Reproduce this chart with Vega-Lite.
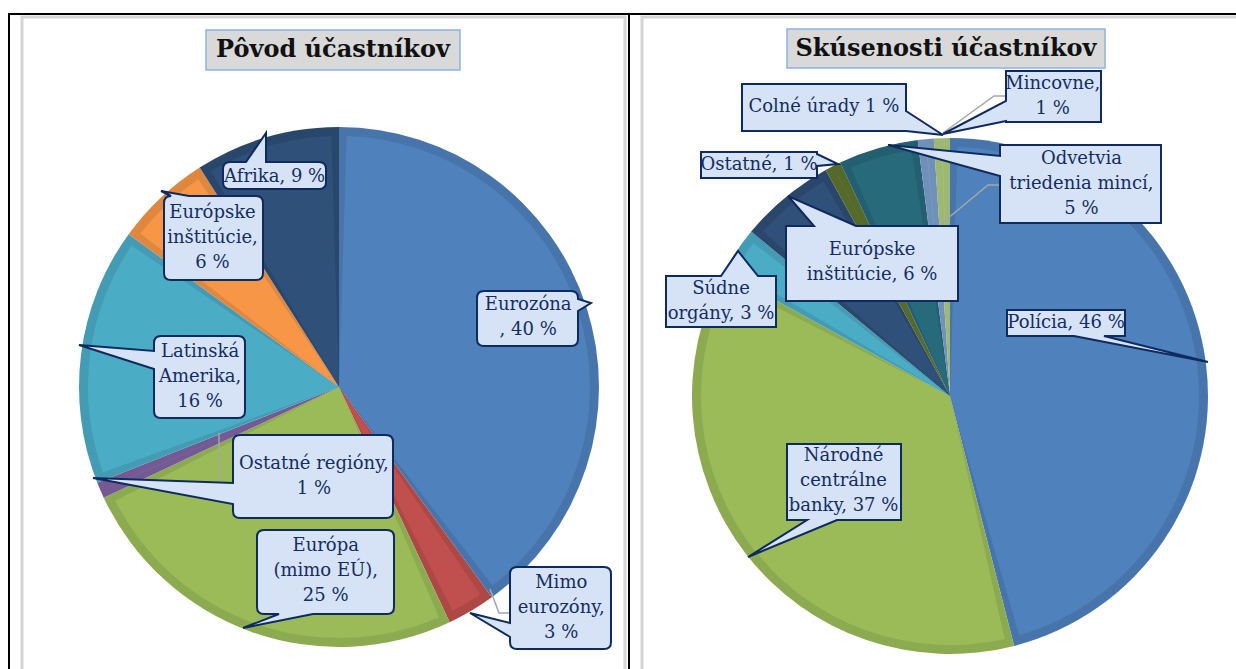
{
"$schema":"https://vega.github.io/schema/vega-lite/v6.json",
"padding":{"left":5,"top":10,"right":0,"bottom":0},
"background":"white",
"config":{"view":{"stroke":null},
"text":{"font":"DejaVu Serif","fontSize":18,"lineHeight":25,"lineBreak":"\n","fill":"#132D63"},
"title":{"font":"DejaVu Serif","fontSize":24,"fontWeight":"bold","color":"#111111","frame":"group","anchor":"middle","orient":"top","baseline":"middle"}},
"datasets":{
"L":[
{"o":1,"cat":"Eurozóna","v":40,"label":"Eurozóna\n, 40 %"},
{"o":2,"cat":"Mimo eurozóny","v":3,"label":"Mimo\neurozóny,\n3 %"},
{"o":3,"cat":"Európa (mimo EÚ)","v":25,"label":"Európa\n(mimo EÚ),\n25 %"},
{"o":4,"cat":"Ostatné regióny","v":1,"label":"Ostatné regióny,\n1 %"},
{"o":5,"cat":"Latinská Amerika","v":16,"label":"Latinská\nAmerika,\n16 %"},
{"o":6,"cat":"Európske inštitúcie","v":6,"label":"Európske\ninštitúcie,\n6 %"},
{"o":7,"cat":"Afrika","v":9,"label":"Afrika, 9 %"}],
"R":[
{"o":1,"cat":"Polícia","v":46,"label":"Polícia, 46 %"},
{"o":2,"cat":"Národné centrálne banky","v":37,"label":"Národné\ncentrálne\nbanky, 37 %"},
{"o":3,"cat":"Súdne orgány","v":3,"label":"Súdne\norgány, 3 %"},
{"o":4,"cat":"Európske inštitúcie","v":6,"label":"Európske\ninštitúcie, 6 %"},
{"o":5,"cat":"Ostatné","v":1,"label":"Ostatné, 1 %"},
{"o":6,"cat":"Odvetvia triedenia mincí","v":5,"label":"Odvetvia\ntriedenia mincí,\n5 %"},
{"o":7,"cat":"Colné úrady","v":1,"label":"Colné úrady 1 %"},
{"o":8,"cat":"Mincovne","v":1,"label":"Mincovne,\n1 %"}]},
"spacing":0,
"bounds":"flush",
"resolve":{"scale":{"theta":"independent","color":"independent","fill":"independent","shape":"independent"}},
"hconcat":[
{"width":660,"height":746,
"data":{"name":"L"},
"title":{"text":"Pôvod účastníkov","offset":-52,"dx":-6},
"layer":[
{"data":{"values":[{}]},"mark":{"type":"point","shape":"M-317,300 V-370 H286 V300","size":4,"filled":false,"stroke":"#D6D6D6","strokeWidth":3,"opacity":1},"encoding":{}},
{"data":{"values":[{}]},"mark":{"type":"point","shape":"M-330,300 V-373 H290 V300","size":4,"filled":false,"stroke":"#000000","strokeWidth":2,"opacity":1},"encoding":{}},
{"encoding":{"theta":{"field":"v","type":"quantitative","stack":true},"order":{"field":"o","type":"quantitative"}},
"layer":[
{"mark":{"type":"arc","outerRadius":260},"encoding":{"color":{"field":"cat","type":"nominal","scale":{"domain":["Eurozóna","Mimo eurozóny","Európa (mimo EÚ)","Ostatné regióny","Latinská Amerika","Európske inštitúcie","Afrika"],"range":["#4775AB","#AD4845","#8CAA50","#735A93","#449CB4","#DF873F","#29466B"]},"legend":null}}},
{"mark":{"type":"arc","outerRadius":251,"padAngle":0.06},"encoding":{"fill":{"field":"cat","type":"nominal","scale":{"domain":["Eurozóna","Mimo eurozóny","Európa (mimo EÚ)","Ostatné regióny","Latinská Amerika","Európske inštitúcie","Afrika"],"range":["#4F81BD","#C0504D","#9BBB59","#8064A2","#4BACC6","#F79646","#2F5079"]},"legend":null}}}
]},
{"data":{"values":[{}]},"mark":{"type":"point","shape":"M-120,46 V96 H-106 M151,202 L160,226 H172","size":4,"filled":false,"stroke":"#A6A6A6","strokeWidth":1.5,"opacity":1},"encoding":{}},
{"data":{"values":[{}]},"mark":{"type":"point","shape":"M-133,-357 H121 V-317 H-133 Z","size":4,"filled":true,"fill":"#D9D9D9","stroke":"#8DB3E2","strokeWidth":1.5,"opacity":1},"encoding":{}},
{"mark":{"type":"point","size":4,"filled":true,"fill":"#D6E3F7","stroke":"#0E2A5E","strokeWidth":2,"opacity":1},
"encoding":{"shape":{"field":"cat","type":"nominal","legend":null,"scale":{"domain":["Eurozóna","Mimo eurozóny","Európa (mimo EÚ)","Ostatné regióny","Latinská Amerika","Európske inštitúcie","Afrika"],
"range":["M145,-96 H232 Q239,-96 239,-89 V-88 L252,-84 L239,-76 V-48 Q239,-41 232,-41 H145 Q138,-41 138,-48 V-89 Q138,-96 145,-96 Z",
"M178,180 H265 Q272,180 272,187 V255 Q272,262 265,262 H178 Q171,262 171,255 V250 L131,226 L171,236 V187 Q171,180 178,180 Z",
"M-75,143 H48 Q55,143 55,150 V220 Q55,227 48,227 H-26 L-96,241 L-60,227 H-75 Q-82,227 -82,220 V150 Q-82,143 -75,143 Z",
"M-99,48 H47 Q54,48 54,55 V124 Q54,131 47,131 H-99 Q-106,131 -106,124 V117 L-246,91 L-106,96 V55 Q-106,48 -99,48 Z",
"M-178,-51 H-101 Q-94,-51 -94,-44 V24 Q-94,31 -101,31 H-178 Q-185,31 -185,24 V-18 L-260,-42 L-185,-36 V-44 Q-185,-51 -178,-51 Z",
"M-168,-191 L-178,-196 L-150,-191 H-83 Q-76,-191 -76,-184 V-114 Q-76,-107 -83,-107 H-168 Q-175,-107 -175,-114 V-184 Q-175,-191 -168,-191 Z",
"M-109,-225 H-93 L-73,-254 L-73,-225 H-20 Q-13,-225 -13,-218 V-205 Q-13,-198 -20,-198 H-109 Q-116,-198 -116,-205 V-218 Q-116,-225 -109,-225 Z"]}}}},
{"encoding":{"theta":{"field":"v","type":"quantitative","stack":true},"order":{"field":"o","type":"quantitative"},"detail":{"field":"cat","type":"nominal"}},
"layer":[
{"mark":{"type":"text","radius":201,"dx":-2,"dy":-19.5},"encoding":{"text":{"condition":{"test":"datum.o==1","field":"label","type":"nominal"},"value":""}}},
{"mark":{"type":"text","radius":303,"dx":68,"dy":-65},"encoding":{"text":{"condition":{"test":"datum.o==2","field":"label","type":"nominal"},"value":""}}},
{"mark":{"type":"text","radius":178,"dx":47,"dy":-8},"encoding":{"text":{"condition":{"test":"datum.o==3","field":"label","type":"nominal"},"value":""}}},
{"mark":{"type":"text","radius":59,"dx":29,"dy":53.5},"encoding":{"text":{"condition":{"test":"datum.o==4","field":"label","type":"nominal"},"value":""}}},
{"mark":{"type":"text","radius":139,"dx":-1,"dy":-18},"encoding":{"text":{"condition":{"test":"datum.o==5","field":"label","type":"nominal"},"value":""}}},
{"mark":{"type":"text","radius":195,"dx":7,"dy":-32},"encoding":{"text":{"condition":{"test":"datum.o==6","field":"label","type":"nominal"},"value":""}}},
{"mark":{"type":"text","radius":220,"dx":-3,"dy":1},"encoding":{"text":{"condition":{"test":"datum.o==7","field":"label","type":"nominal"},"value":""}}}
]}
]},
{"width":562,"height":764,
"data":{"name":"R"},
"title":{"text":"Skúsenosti účastníkov","offset":-50.5,"dx":-4},
"layer":[
{"data":{"values":[{}]},"mark":{"type":"point","shape":"M-308,300 V-379 H287","size":4,"filled":false,"stroke":"#D6D6D6","strokeWidth":3,"opacity":1},"encoding":{}},
{"data":{"values":[{}]},"mark":{"type":"point","shape":"M-321,-382 H287","size":4,"filled":false,"stroke":"#000000","strokeWidth":2,"opacity":1},"encoding":{}},
{"encoding":{"theta":{"field":"v","type":"quantitative","stack":true},"order":{"field":"o","type":"quantitative"}},
"layer":[
{"mark":{"type":"arc","outerRadius":258},"encoding":{"color":{"field":"cat","type":"nominal","scale":{"domain":["Polícia","Národné centrálne banky","Súdne orgány","Európske inštitúcie","Ostatné","Odvetvia triedenia mincí","Colné úrady","Mincovne"],"range":["#4775AB","#8CAA50","#449CB4","#2A466A","#55692B","#235F70","#7090BA","#9DB872"]},"legend":null}}},
{"mark":{"type":"arc","outerRadius":249,"padAngle":0.06},"encoding":{"fill":{"field":"cat","type":"nominal","scale":{"domain":["Polícia","Národné centrálne banky","Súdne orgány","Európske inštitúcie","Ostatné","Odvetvia triedenia mincí","Colné úrady","Mincovne"],"range":["#4F81BD","#9BBB59","#4BACC6","#2F5079","#5F7530","#276A7C","#7D9DC8","#A9C47C"]},"legend":null}}}
]},
{"data":{"values":[{}]},"mark":{"type":"point","shape":"M56,-300 H44 L-7,-263 M50,-211 H38 L-9,-172","size":4,"filled":false,"stroke":"#A6A6A6","strokeWidth":1.5,"opacity":1},"encoding":{}},
{"data":{"values":[{}]},"mark":{"type":"point","shape":"M-163,-367 H155 V-328 H-163 Z","size":4,"filled":true,"fill":"#D9D9D9","stroke":"#8DB3E2","strokeWidth":1.5,"opacity":1},"encoding":{}},
{"mark":{"type":"point","size":4,"filled":true,"fill":"#D6E3F7","stroke":"#0E2A5E","strokeWidth":2,"opacity":1},
"encoding":{"shape":{"field":"cat","type":"nominal","legend":null,"scale":{"domain":["Polícia","Národné centrálne banky","Súdne orgány","Európske inštitúcie","Ostatné","Odvetvia triedenia mincí","Colné úrady","Mincovne"],
"range":["M57,-86 H175 V-60 H154 L258,-34 L124,-60 H57 Z",
"M-163,48 H-49 V124 H-113 L-202,161 L-143,124 H-163 Z",
"M-284,-120 H-229 L-212,-145 L-192,-120 H-174 V-69 H-284 Z",
"M-164,-170 H-136 L-162,-200 L-94,-170 H8 V-95 H-164 Z",
"M-249,-244 H-133 V-242 L-112,-232 L-133,-230 V-218 H-249 Z",
"M50,-251 H211 V-173 H50 V-220 L-62,-251 L50,-240 Z",
"M-208,-312 H-44 V-285 L-7,-261 L-44,-265 H-208 Z",
"M56,-325 H151 V-274 H56 V-275 L-7,-262 L56,-295 Z"]}}}},
{"encoding":{"theta":{"field":"v","type":"quantitative","stack":true},"order":{"field":"o","type":"quantitative"},"detail":{"field":"cat","type":"nominal"}},
"layer":[
{"mark":{"type":"text","radius":124,"dx":-7,"dy":-57},"encoding":{"text":{"condition":{"test":"datum.o==1","field":"label","type":"nominal"},"value":""}}},
{"mark":{"type":"text","radius":136,"dx":1,"dy":-23},"encoding":{"text":{"condition":{"test":"datum.o==2","field":"label","type":"nominal"},"value":""}}},
{"mark":{"type":"text","radius":243,"dx":-28,"dy":29.5},"encoding":{"text":{"condition":{"test":"datum.o==3","field":"label","type":"nominal"},"value":""}}},
{"mark":{"type":"text","radius":152,"dx":19,"dy":-28.5},"encoding":{"text":{"condition":{"test":"datum.o==4","field":"label","type":"nominal"},"value":""}}},
{"mark":{"type":"text","radius":293,"dx":-58,"dy":30},"encoding":{"text":{"condition":{"test":"datum.o==5","field":"label","type":"nominal"},"value":""}}},
{"mark":{"type":"text","radius":167,"dx":178,"dy":-77},"encoding":{"text":{"condition":{"test":"datum.o==6","field":"label","type":"nominal"},"value":""}}},
{"mark":{"type":"text","radius":299,"dx":-98,"dy":9},"encoding":{"text":{"condition":{"test":"datum.o==7","field":"label","type":"nominal"},"value":""}}},
{"mark":{"type":"text","radius":296,"dx":112,"dy":-16.5},"encoding":{"text":{"condition":{"test":"datum.o==8","field":"label","type":"nominal"},"value":""}}}
]}
]}
]}
